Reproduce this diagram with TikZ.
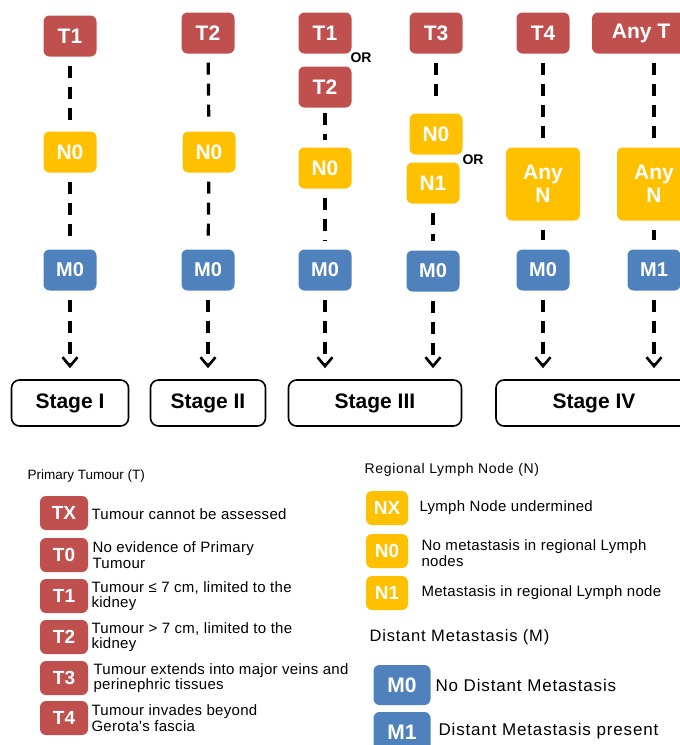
\documentclass[tikz,border=0pt]{standalone}
\usepackage{fontspec}
\setmainfont{Liberation Sans}
\newfontfamily\widesans[LetterSpace=2]{Liberation Sans}
\newfontfamily\widersans[LetterSpace=5]{Liberation Sans}
\usetikzlibrary{arrows.meta}
\definecolor{tred}{HTML}{C0504D}
\definecolor{nyellow}{HTML}{FFC000}
\definecolor{mblue}{HTML}{4F81BD}

\tikzset{
  tag/.style={rounded corners=6pt,text=white,inner sep=2pt,align=center,
    font=\fontsize{21}{23}\selectfont\bfseries,minimum width=53pt,minimum height=41pt},
  tbox/.style={tag,fill=tred},
  nbox/.style={tag,fill=nyellow},
  mbox/.style={tag,fill=mblue,font=\fontsize{20}{22}\selectfont\bfseries},
  keybox/.style={rounded corners=6pt,text=white,inner sep=2pt,
    font=\fontsize{19}{21}\selectfont\bfseries,minimum width=48pt,minimum height=34pt},
  stagebox/.style={draw=black,line width=1.6pt,rounded corners=8pt,minimum height=46pt,
    font=\fontsize{21}{23}\selectfont\bfseries},
  orlabel/.style={font=\fontsize{14}{16}\selectfont\bfseries},
  heading/.style={anchor=west,font=\fontsize{13.5}{16}\selectfont},
  desc/.style={anchor=west,align=left,font=\widesans\fontsize{15}{15.5}\selectfont},
  link/.style={line width=3.2pt,dash pattern=on 12pt off 9pt,shorten <=9pt,shorten >=9pt},
  toarrow/.style={link,shorten >=11pt,-{Straight Barb[length=9pt,width=15pt,line width=2.6pt]}}
}

\begin{document}
\begin{tikzpicture}[x=1pt,y=-1pt]
  \useasboundingbox (0,0) rectangle (680,745);

  % T row
  \node[tbox] (ta) at (70,36) {T1};
  \node[tbox] (tb) at (208,33) {T2};
  \node[tbox] (tca) at (325,33) {T1};
  \node[tbox] (tcb) at (325,87) {T2};
  \node[tbox] (td) at (436,33) {T3};
  \node[tbox] (te) at (543,33) {T4};
  \node[tbox,minimum width=98pt] (tf) at (641,33) {Any T};
  \node[orlabel] (orc) at (361,58) {OR};

  % N row
  \node[nbox] (na) at (70,152) {N0};
  \node[nbox] (nb) at (209,152) {N0};
  \node[nbox] (nc) at (325,168) {N0};
  \node[nbox] (nda) at (436,134) {N0};
  \node[nbox] (ndb) at (433,183) {N1};
  \node[nbox,minimum width=74pt,minimum height=73pt] (ne) at (543,184) {Any\\N};
  \node[nbox,minimum width=74pt,minimum height=73pt] (nf) at (654,184) {Any\\N};
  \node[orlabel] (ord) at (473,160) {OR};

  % M row
  \node[mbox] (ma) at (70,270) {M0};
  \node[mbox] (mb) at (208,270) {M0};
  \node[mbox] (mc) at (325,270) {M0};
  \node[mbox] (md) at (433,271) {M0};
  \node[mbox] (me) at (543,270) {M0};
  \node[mbox] (mf) at (654,270) {M1};

  % stages
  \node[stagebox,minimum width=117pt] (sa) at (70,403) {Stage I};
  \node[stagebox,minimum width=115pt] (sb) at (208,403) {Stage II};
  \node[stagebox,minimum width=173pt] (sc) at (375,403) {Stage III};
  \node[stagebox,minimum width=196pt] (sd) at (594,403) {Stage IV};

  % connectors
  \draw[link] (ta) -- (na);
  \draw[link] (na) -- (ma);
  \draw[toarrow] (ma) -- (ma |- sa.north);
  \draw[link] (tb) -- (nb);
  \draw[link] (nb) -- (mb);
  \draw[toarrow] (mb) -- (mb |- sb.north);
  \draw[link,shorten <=5pt,shorten >=7pt] (tcb) -- (nc);
  \draw[link] (nc) -- (mc);
  \draw[toarrow] (mc) -- (mc |- sc.north);
  \draw[link] (td) -- (nda);
  \draw[link] (ndb) -- (md);
  \draw[toarrow] (md) -- (md |- sc.north);
  \draw[link] (te) -- (ne);
  \draw[link] (ne) -- (me);
  \draw[toarrow] (me) -- (me |- sd.north);
  \draw[link] (tf.south -| nf) -- (nf);
  \draw[link] (nf) -- (mf);
  \draw[toarrow] (mf) -- (mf |- sd.north);

  % key: primary tumour
  \node[heading] (hT) at (24,476) {Primary Tumour (T)};
  \node[keybox,fill=tred] (kx) at (64,513) {TX};
  \node[desc] (dx) at (88,514) {Tumour cannot be assessed};
  \node[keybox,fill=tred] (k0) at (64,555) {T0};
  \node[desc] (d0) at (89,555) {No evidence of Primary\\Tumour};
  \node[keybox,fill=tred] (k1) at (64,596) {T1};
  \node[desc] (d1) at (88,596) {Tumour \char"2264{} 7 cm, limited to the\\kidney};
  \node[keybox,fill=tred] (k2) at (64,637) {T2};
  \node[desc] (d2) at (88,637) {Tumour > 7 cm, limited to the\\kidney};
  \node[keybox,fill=tred] (k3) at (64,678) {T3};
  \node[desc] (d3) at (90,678) {Tumour extends into major veins and\\perinephric tissues};
  \node[keybox,fill=tred] (k4) at (64,718) {T4};
  \node[desc] (d4) at (88,718) {Tumour invades beyond\\Gerota's fascia};

  % key: lymph node
  \node[heading,font=\widersans\fontsize{14}{16}\selectfont] (hN) at (361,470) {Regional Lymph Node (N)};
  \node[keybox,fill=nyellow,minimum width=42pt] (knx) at (387,508) {NX};
  \node[desc] (dnx) at (416,508) {Lymph Node undermined};
  \node[keybox,fill=nyellow,minimum width=42pt] (kn0) at (387,551) {N0};
  \node[desc] (dn0) at (418,553) {No metastasis in regional Lymph\\nodes};
  \node[keybox,fill=nyellow,minimum width=42pt] (kn1) at (387,593) {N1};
  \node[desc] (dn1) at (418,593) {Metastasis in regional Lymph node};

  % key: distant metastasis
  \node[heading,font=\widersans\fontsize{16.5}{19}\selectfont] (hM) at (366,637) {Distant Metastasis (M)};
  \node[keybox,fill=mblue,minimum width=57pt,minimum height=40pt,font=\fontsize{21}{23}\selectfont\bfseries] (km0) at (402,685) {M0};
  \node[desc,font=\widersans\fontsize{17}{19}\selectfont] (dm0) at (432,685) {No Distant Metastasis};
  \node[keybox,fill=mblue,minimum width=57pt,minimum height=40pt,font=\fontsize{21}{23}\selectfont\bfseries] (km1) at (402,732) {M1};
  \node[desc,font=\widersans\fontsize{17}{19}\selectfont] (dm1) at (435,731) {Distant Metastasis present};
\end{tikzpicture}
\end{document}
